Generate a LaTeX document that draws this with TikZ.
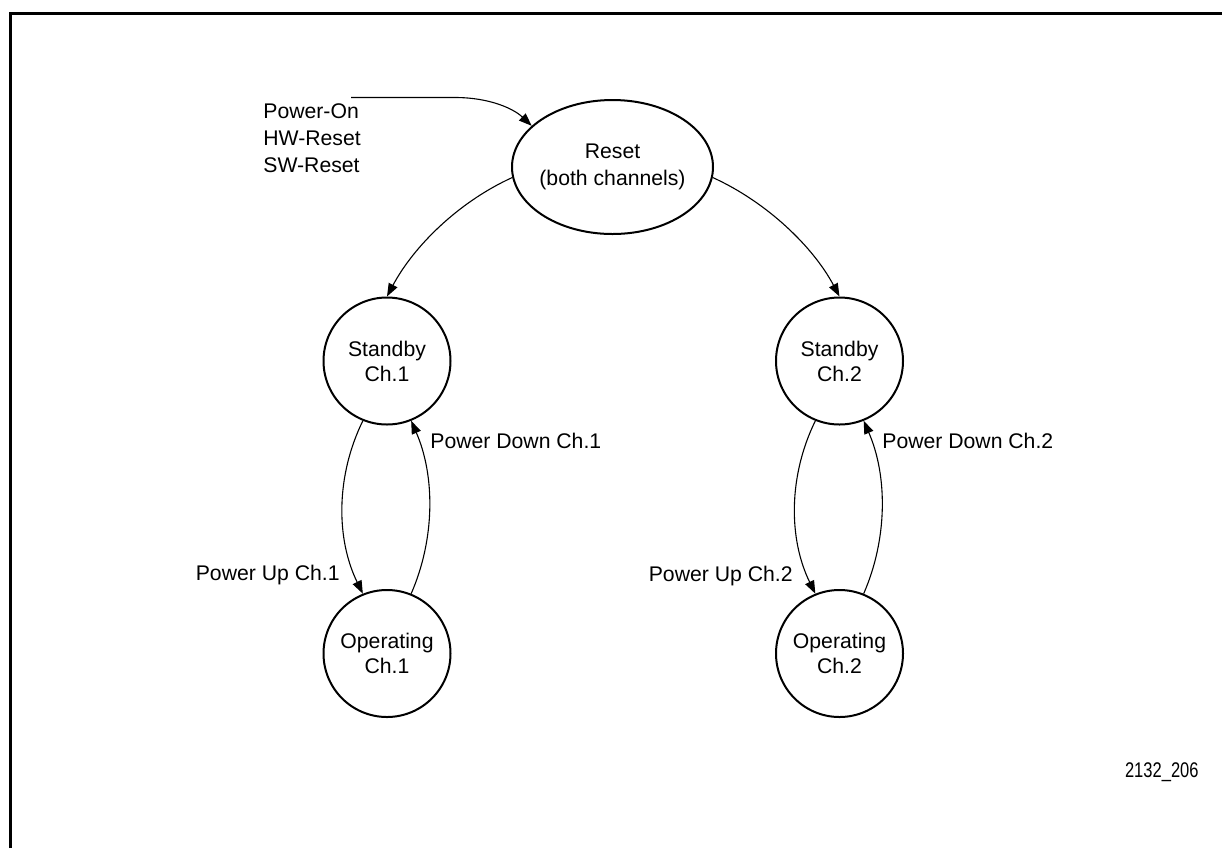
\documentclass[tikz,border=0pt]{standalone}
\usepackage{fontspec}
\setmainfont{Liberation Sans}
\newfontfamily\narrowfont[FakeStretch=0.78]{Liberation Sans}
\usetikzlibrary{shapes.geometric,arrows.meta}
\begin{document}
\begin{tikzpicture}[x=0.5pt,y=-0.5pt,
  every node/.style={font=\fontsize{10.6}{12.5}\selectfont, inner sep=0pt},
  state/.style={circle, draw, line width=1pt, minimum size=63.5pt, align=center},
  conn/.style={line width=0.55pt, -{Triangle[length=6.5pt,width=4.8pt]}},
  tall/.style={font=\fontsize{10.6}{13.5}\selectfont}
]
\useasboundingbox (0,0) rectangle (1222,848);
% frame
\draw[line width=1.5pt] (10.5,848) -- (10.5,13.5) -- (1222,13.5);

% states
\node[ellipse, draw, line width=1pt, minimum width=100.5pt, minimum height=67pt] (reset) at (612.5,167) {};
\node[tall, align=center] (resetlbl) at (reset.center) {Reset\\(both channels)};
\node[state] (s1) at (387,361) {Standby\\Ch.1};
\node[state] (o1) at (387,653.5) {Operating\\Ch.1};
\node[state] (s2) at (839.5,361) {Standby\\Ch.2};
\node[state] (o2) at (839.5,653.5) {Operating\\Ch.2};

% reset sources
\node[tall, align=left, anchor=north west] (src) at (263,103) {Power-On\\HW-Reset\\SW-Reset};
\coordinate (pon) at (351,97.5);
\draw[conn] (pon) -- ++(104,0) .. controls +(35,0) and +(-18,-17) .. (reset.153);

% reset to standby
\draw[conn] (reset.186) .. controls +(-55,25) and +(26,-49) .. (s1.north);
\draw[conn] (reset.-6) .. controls +(55,25) and +(-26,-49) .. (s2.north);

% channel 1 loop
\draw[conn] (s1.248) .. controls +(-27,55) and +(-27,-55) .. (o1.112);
\draw[conn] (o1.68) .. controls +(24,-55) and +(24,55) .. (s1.292);
% channel 2 loop
\draw[conn] (s2.248) .. controls +(-27,55) and +(-27,-55) .. (o2.112);
\draw[conn] (o2.68) .. controls +(24,-55) and +(24,55) .. (s2.292);

% transition labels
\node[anchor=base west] (pd1) at (430,448) {Power Down Ch.1};
\node[anchor=base east] (pu1) at (340,580) {Power Up Ch.1};
\node[anchor=base west] (pd2) at (882,448) {Power Down Ch.2};
\node[anchor=base east] (pu2) at (793,581) {Power Up Ch.2};

% figure number
\node[anchor=base east, font=\narrowfont\fontsize{10.6}{12.5}\selectfont] (fig) at (1199,777) {2132\_206};
\end{tikzpicture}
\end{document}
